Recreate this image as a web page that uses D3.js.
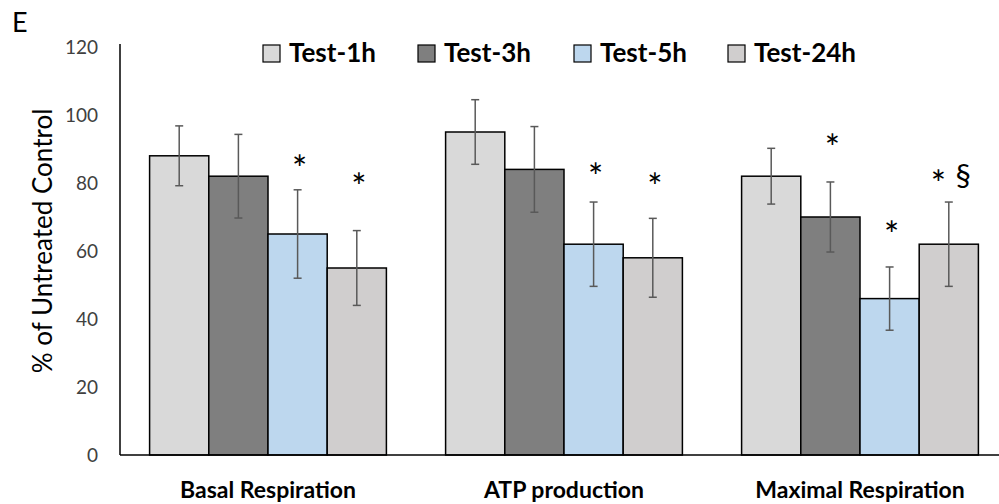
<!DOCTYPE html>
<html>
<head>
<meta charset="utf-8">
<script src="https://cdn.jsdelivr.net/npm/d3@7"></script>
<style>
  body { margin: 0; background: #fff; }
  svg { display: block; font-family: Lato, "Open Sans", sans-serif; }
</style>
</head>
<body>
<svg id="chart" width="999" height="504"></svg>
<script>
const categories = ["Basal Respiration", "ATP production", "Maximal Respiration"];
const seriesNames = ["Test-1h", "Test-3h", "Test-5h", "Test-24h"];
const seriesColors = ["#d9d9d9", "#7f7f7f", "#bdd7ee", "#d0cece"];
// values per series, one per category
const test1h = [88, 95, 82];
const test3h = [82, 84, 70];
const test5h = [65, 62, 46];
const test24h = [55, 58, 62];
// error bar half-widths
const err1h = [8.8, 9.5, 8.2];
const err3h = [12.3, 12.6, 10.3];
const err5h = [13, 12.4, 9.3];
const err24h = [11, 11.6, 12.4];
const yTicks = [0, 20, 40, 60, 80, 100, 120];
// significance marks: category, series, label, level (% value)
const marks = [
  ["Basal Respiration", "Test-5h", "*", 87],
  ["Basal Respiration", "Test-24h", "*", 81.5],
  ["ATP production", "Test-5h", "*", 84.5],
  ["ATP production", "Test-24h", "*", 81.5],
  ["Maximal Respiration", "Test-3h", "*", 93],
  ["Maximal Respiration", "Test-5h", "*", 67.5],
  ["Maximal Respiration", "Test-24h", "* §", 82.5]
];

const allValues = [test1h, test3h, test5h, test24h];
const allErrors = [err1h, err3h, err5h, err24h];
const data = [];
categories.forEach((c, ci) => {
  seriesNames.forEach((s, si) => {
    data.push({ cat: c, series: s, value: allValues[si][ci], err: allErrors[si][ci], color: seriesColors[si] });
  });
});

const svg = d3.select("#chart");
const margin = { left: 120, top: 47, bottom: 455 };

const x0 = d3.scaleBand().domain(categories).range([120, 1008]).padding(0);
const bw = x0.bandwidth();
const x1 = d3.scaleBand().domain(seriesNames).range([bw * 0.1, bw * 0.9]).padding(0);
const y = d3.scaleLinear().domain([0, 120]).range([margin.bottom, margin.top]);

// panel letter
svg.append("text").attr("x", 12).attr("y", 32).style("font-size", "27px").style("fill", "#000").text("E");

// y axis
const yAxis = svg.append("g")
  .attr("transform", `translate(${margin.left},0)`)
  .call(d3.axisLeft(y).tickValues(yTicks).tickSize(0).tickPadding(22));
yAxis.select(".domain").remove();
yAxis.selectAll("text").style("font-size", "19px").style("fill", "#404040").style("font-family", "Lato, sans-serif");

// bars
svg.append("g").selectAll("rect").data(data).join("rect")
  .attr("x", d => x0(d.cat) + x1(d.series))
  .attr("y", d => y(d.value))
  .attr("width", x1.bandwidth())
  .attr("height", d => y(0) - y(d.value))
  .attr("fill", d => d.color)
  .attr("stroke", "#000")
  .attr("stroke-width", 1.5);

// error bars
const eb = svg.append("g").attr("stroke", "#595959").attr("stroke-width", 1.5);
data.forEach(d => {
  const cx = x0(d.cat) + x1(d.series) + x1.bandwidth() / 2;
  eb.append("line").attr("x1", cx).attr("x2", cx).attr("y1", y(d.value + d.err)).attr("y2", y(d.value - d.err));
  eb.append("line").attr("x1", cx - 4).attr("x2", cx + 4).attr("y1", y(d.value + d.err)).attr("y2", y(d.value + d.err));
  eb.append("line").attr("x1", cx - 4).attr("x2", cx + 4).attr("y1", y(d.value - d.err)).attr("y2", y(d.value - d.err));
});

// axis lines
svg.append("line").attr("x1", margin.left).attr("x2", margin.left).attr("y1", margin.top - 3).attr("y2", y(0)).attr("stroke", "#000").attr("stroke-width", 1.5);
svg.append("line").attr("x1", margin.left).attr("x2", 999).attr("y1", y(0)).attr("y2", y(0)).attr("stroke", "#000").attr("stroke-width", 1.5);

// significance marks, each symbol drawn on its own
const markG = svg.append("g");
marks.forEach(m => {
  const parts = m[2].split(" ");
  const cx = x0(m[0]) + x1(m[1]) + x1.bandwidth() / 2 + 2;
  parts.forEach((p, i) => {
    const px = cx + (i - (parts.length - 1) / 2) * 25;
    const t = markG.append("text")
      .attr("x", px)
      .attr("y", y(m[3]))
      .attr("text-anchor", "middle")
      .style("fill", "#000")
      .text(p);
    if (p === "*") t.attr("dy", "0.62em").style("font-size", "36px");
    else t.attr("dy", "0.36em").style("font-size", "31px");
  });
});

// category labels
svg.append("g").selectAll("text").data(categories).join("text")
  .attr("x", d => x0(d) + bw / 2)
  .attr("y", 498)
  .attr("text-anchor", "middle")
  .style("font-size", "23px")
  .style("font-weight", "bold")
  .style("fill", "#000")
  .text(d => d);

// y title
svg.append("text")
  .attr("transform", `translate(52,241) rotate(-90)`)
  .attr("text-anchor", "middle")
  .style("font-size", "26px")
  .style("fill", "#000")
  .text("% of Untreated Control");

// legend
const legendX = [263, 418, 574, 728];
const legend = svg.append("g").selectAll("g").data(seriesNames).join("g")
  .attr("transform", (d, i) => `translate(${legendX[i]},45)`);
legend.append("rect").attr("width", 17).attr("height", 17)
  .attr("fill", (d, i) => seriesColors[i]).attr("stroke", "#000").attr("stroke-width", 1.2);
legend.append("text").attr("x", 26).attr("y", 16.5)
  .style("font-size", "26px").style("font-weight", "bold").style("fill", "#000")
  .text(d => d);
</script>
</body>
</html>
